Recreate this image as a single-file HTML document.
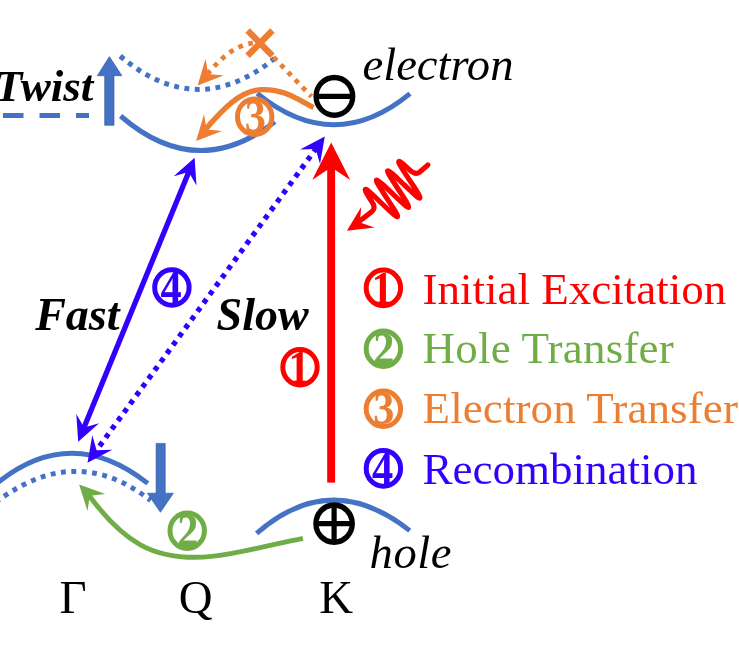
<!DOCTYPE html>
<html lang="en">
<head>
<meta charset="utf-8">
<title>Carrier dynamics diagram</title>
<style>
html,body{margin:0;padding:0;background:#fff;}
body{width:739px;height:657px;overflow:hidden;position:relative;}
svg{position:absolute;left:0;top:0;display:block;will-change:transform;}
text{font-family:"Liberation Serif","DejaVu Serif",serif;font-size:45px;}
.bi{font-weight:bold;font-style:italic;font-size:46px;}
.it{font-style:italic;font-size:46.6px;}
.ax{font-size:46.8px;}
.sym{font-family:"DejaVu Math TeX Gyre","DejaVu Serif",serif;font-size:64px;text-anchor:middle;}
.num{font-weight:bold;font-size:45px;text-anchor:middle;}
</style>
</head>
<body>
<svg width="739" height="657" viewBox="0 0 739 657">
<rect width="739" height="657" fill="#fff"/>

<!-- band curves -->
<g fill="none" stroke="#4472C4" stroke-width="5.0">
  <path d="M120.6 116 Q196.7 182 274.9 121.8"/>
  <path d="M120.2 56 Q196.7 121.5 274.5 58.5" stroke-dasharray="4.9 5.5"/>
  <path d="M257.2 93.4 Q334 156 410 93.6"/>
  <path d="M-4.5 484.5 C22 462.5 46 453.2 72 453.2 C98 453.2 122 463 147.8 483.4"/>
  <path d="M-4.5 502.5 C24 481 50 471.4 75 471.4 C101 471.4 125 480.5 150.7 500.5" stroke-dasharray="4.9 5.5"/>
  <path d="M256.6 533.4 Q331 468.4 409.7 530.6"/>
  <path d="M3 115.5 H89" stroke-dasharray="20.5 16"/>
</g>
<!-- block arrows -->
<g fill="#4472C4" stroke="#2F528F" stroke-width="0.6" stroke-linejoin="miter">
  <path d="M104.7 125.3 V75.7 H97.3 L109.4 56.6 L121.9 75.7 H114 V125.3 Z"/>
  <path d="M156.1 443.4 H165.2 V493.2 H173.4 L160.4 512.3 L147.4 493.2 H156.1 Z"/>
</g>
<!-- red excitation arrow -->
<g fill="#FF0000">
  <rect x="327.2" y="165" width="7.9" height="317.6"/>
  <path d="M331.2 142.4 L312.2 180.1 L331.2 167.3 L350.2 180.1 Z"/>
</g>
<!-- photon -->
<path d="M427.9 165 L419.4 172.2 Q415.5 175.4 409.2 169.6 C405.6 166.3 402.6 163.5 400.7 162.2 C398.9 161 398.3 161.1 398.9 162.8 C399.6 164.5 401.5 167.7 404 171.7 C406.6 175.6 409.7 180.3 412.5 184.5 C415.3 188.8 417.7 192.6 418.9 195 C420.2 197.5 420.3 198.5 419.1 198 C417.9 197.5 415.4 195.4 412.2 192.4 C409 189.5 405 185.6 401.2 182 C397.5 178.4 393.9 175.1 391.5 173 C389 171 387.6 170.2 387.5 171 C387.4 171.8 388.7 174.3 390.8 177.7 C392.9 181.2 395.9 185.6 398.8 190 C401.7 194.4 404.5 198.7 406.4 201.9 C408.2 205 409.1 207 408.7 207.4 C408.2 207.8 406.4 206.5 403.7 204.1 C400.9 201.7 397.2 198.2 393.4 194.5 C389.6 190.9 385.7 187.2 382.7 184.4 C379.7 181.7 377.5 180.1 376.7 180 C375.9 179.9 376.4 181.5 378 184.3 C379.6 187.1 382.2 191.1 385.1 195.5 C387.9 199.8 391 204.4 393.3 208.2 C395.7 211.9 397.3 214.7 397.6 216 C397.8 217.2 396.8 216.9 394.7 215.3 C392.5 213.6 389.2 210.5 385.5 207 C381.8 203.5 377.8 199.6 374.4 196.4 C370.9 193.2 368.1 190.7 366.6 189.8 C365 188.8 364.8 189.4 365.7 191.4 C366.6 193.5 368.8 197 371.4 201.1 Q376.8 207.9 371.2 212.1 L357.2 222.9" fill="none" stroke="#FF0000" stroke-width="5.1" stroke-linecap="round" stroke-linejoin="round"/>
<path d="M346.9 230.8 L374.6 227.5 L359.9 222.4 L361.2 206.9 Z" fill="#FF0000"/>
<!-- recombination arrows -->
<g stroke="#3300FF" fill="none" stroke-width="5.3">
  <path d="M189.3 170.7 L83.5 428.8"/>
  <path d="M316.6 147.8 L95.7 451.4" stroke-dasharray="4.9 5.5"/>
</g>
<g fill="#3300FF">
  <path d="M194.6 157.7 L173.7 176.2 L188.7 172 L196.5 185.5 Z"/>
  <path d="M78.2 441.8 L99.1 423.3 L84.1 427.5 L76.3 414 Z"/>
  <path d="M324.8 136.5 L300.1 149.5 L315.7 149 L320 164 Z"/>
  <path d="M87.5 462.7 L112.2 449.7 L96.6 450.2 L92.3 435.2 Z"/>
</g>
<!-- circled numbers -->
<defs>
  <clipPath id="c0"><ellipse cx="254.7" cy="116.7" rx="19.4" ry="20"/></clipPath>
  <clipPath id="c1"><ellipse cx="171.9" cy="287.5" rx="19.4" ry="20"/></clipPath>
  <clipPath id="c2"><ellipse cx="300" cy="367.2" rx="19.4" ry="20"/></clipPath>
  <clipPath id="c3"><ellipse cx="187.2" cy="530.7" rx="19.4" ry="20"/></clipPath>
  <clipPath id="c4"><ellipse cx="383.4" cy="287.9" rx="19.4" ry="20"/></clipPath>
  <clipPath id="c5"><ellipse cx="383.4" cy="348.7" rx="19.4" ry="20"/></clipPath>
  <clipPath id="c6"><ellipse cx="383.4" cy="408.8" rx="19.4" ry="20"/></clipPath>
  <clipPath id="c7"><ellipse cx="383.4" cy="468.4" rx="19.4" ry="20"/></clipPath>
</defs>
<g fill="#ED7D31" stroke="#ED7D31">
  <ellipse cx="254.7" cy="116.7" rx="17.2" ry="17.8" fill="none" stroke-width="5"/>
  <g clip-path="url(#c0)"><text class="num" transform="translate(255.2 132.3) scale(0.94 1.04)" stroke-width="0.1">3</text></g>
</g>
<g fill="#3300FF" stroke="#3300FF">
  <ellipse cx="171.9" cy="287.5" rx="17.2" ry="17.8" fill="none" stroke-width="5"/>
  <g clip-path="url(#c1)"><text class="num" transform="translate(171.1 303.1) scale(0.94 1.04)" stroke-width="0.1">4</text></g>
</g>
<g fill="#FF0000" stroke="#FF0000">
  <ellipse cx="300" cy="367.2" rx="17.2" ry="17.8" fill="none" stroke-width="5"/>
  <g clip-path="url(#c2)"><text class="num" transform="translate(299 382.8) scale(0.94 1.04)" stroke-width="0.1">1</text></g>
</g>
<g fill="#70AD47" stroke="#70AD47">
  <ellipse cx="187.2" cy="530.7" rx="17.2" ry="17.8" fill="none" stroke-width="5"/>
  <g clip-path="url(#c3)"><text class="num" transform="translate(187.7 546.3) scale(0.94 1.04)" stroke-width="0.1">2</text></g>
</g>
<g fill="#FF0000" stroke="#FF0000">
  <ellipse cx="383.4" cy="287.9" rx="17.2" ry="17.8" fill="none" stroke-width="5"/>
  <g clip-path="url(#c4)"><text class="num" transform="translate(382.4 303.5) scale(0.94 1.04)" stroke-width="0.1">1</text></g>
</g>
<g fill="#70AD47" stroke="#70AD47">
  <ellipse cx="383.4" cy="348.7" rx="17.2" ry="17.8" fill="none" stroke-width="5"/>
  <g clip-path="url(#c5)"><text class="num" transform="translate(383.9 364.3) scale(0.94 1.04)" stroke-width="0.1">2</text></g>
</g>
<g fill="#ED7D31" stroke="#ED7D31">
  <ellipse cx="383.4" cy="408.8" rx="17.2" ry="17.8" fill="none" stroke-width="5"/>
  <g clip-path="url(#c6)"><text class="num" transform="translate(383.9 424.4) scale(0.94 1.04)" stroke-width="0.1">3</text></g>
</g>
<g fill="#3300FF" stroke="#3300FF">
  <ellipse cx="383.4" cy="468.4" rx="17.2" ry="17.8" fill="none" stroke-width="5"/>
  <g clip-path="url(#c7)"><text class="num" transform="translate(382.6 484) scale(0.94 1.04)" stroke-width="0.1">4</text></g>
</g>
<!-- electron transfer -->
<g stroke="#ED7D31" fill="none" stroke-width="5.3">
  <path d="M313.5 107.5 C300 101 285 89 262.6 89.6 C240 90 222 110 204 131"/>
  <path d="M311.5 96.5 L260 43.2 C240 41 222 56 205.5 76.5" stroke-width="4.8" stroke-dasharray="4.7 5.7" stroke-dashoffset="2"/>
  <path d="M247.6 30.5 L272.4 55.7 M272.4 30.5 L247.6 55.7" stroke-width="6.3"/>
</g>
<g fill="#ED7D31">
  <path d="M196.1 141 L222.1 130.9 L206.6 129.6 L204 114.3 Z"/>
  <path d="M197.6 85.4 L223.6 75.5 L208.2 74.1 L205.6 58.7 Z"/>
</g>
<!-- hole transfer -->
<path d="M302.9 538.3 C265 546 225 557.3 195 557.3 C155 557.3 125 545 88 494" stroke="#70AD47" stroke-width="4.9" fill="none"/>
<path d="M79.1 484.5 L87.5 511.1 L89.8 495.7 L105.3 494.1 Z" fill="#70AD47"/>
<!-- carriers -->
<text class="sym" transform="translate(334.2 114.6) scale(1.03 1.06)">⊖</text>
<text class="sym" transform="translate(334 542.3) scale(1.025 1.045)">⊕</text>
<!-- labels -->
<text class="bi" x="-5.2" y="101.2" style="font-size:45px">Twist</text>
<text class="bi" x="35.2" y="329.8">Fast</text>
<text class="bi" x="216.6" y="329.8">Slow</text>
<text class="it" x="362.5" y="80.4">electron</text>
<text class="it" x="369.6" y="568" style="letter-spacing:0.5px">hole</text>
<text class="ax" x="59.4" y="613.2">Γ</text>
<text class="ax" x="178.8" y="613.2">Q</text>
<text class="ax" x="319.2" y="613.2">K</text>
<text x="422.6" y="303.9" fill="#FF0000">Initial Excitation</text>
<text x="422.6" y="363.4" fill="#70AD47" style="letter-spacing:0.2px">Hole Transfer</text>
<text x="422.6" y="423.1" fill="#ED7D31" style="letter-spacing:0.1px">Electron Transfer</text>
<text x="422.6" y="484" fill="#3300FF">Recombination</text>
</svg>
</body>
</html>
